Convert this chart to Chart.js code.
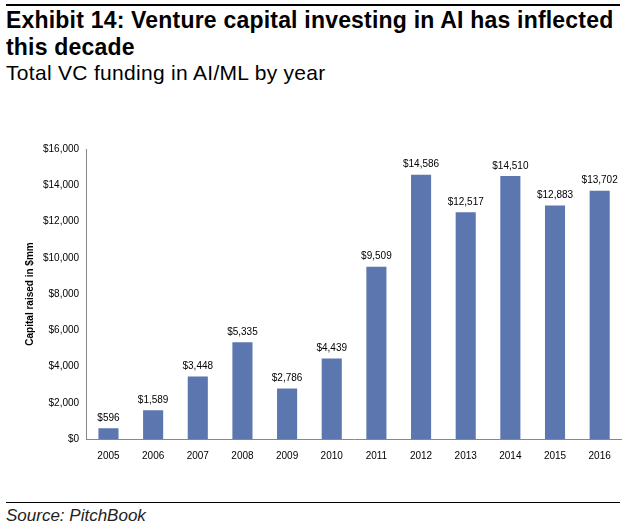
<!DOCTYPE html>
<html>
<head>
    <script src="https://cdn.jsdelivr.net/npm/chart.js@4/dist/chart.umd.min.js"></script>
    <style>
        body { margin: 0; width: 640px; height: 528px; background: #fff; font-family: Arial, "Liberation Sans", sans-serif; position: relative; }
        .rule { position: absolute; left: 6px; width: 614px; border-top: 2px solid #000; }
        .title { position: absolute; left: 6px; top: 7px; font-size: 23px; font-weight: bold; line-height: 27px; color: #000; letter-spacing: 0.2px; }
        .subtitle { position: absolute; left: 6px; top: 61px; font-size: 21px; color: #000; letter-spacing: 0.3px; }
        .source { position: absolute; left: 6px; top: 506px; font-size: 17px; font-style: italic; color: #222; }
        .chart-box { position: absolute; left: 20px; top: 140px; width: 602px; height: 325px; }
    </style>
</head>
<body>
    <div class="rule" style="top:4px"></div>
    <div class="title">Exhibit 14: Venture capital investing in AI has inflected<br>this decade</div>
    <div class="subtitle">Total VC funding in AI/ML by year</div>
    <div class="chart-box"><canvas id="vcChart"></canvas></div>
    <div class="rule" style="top:502px; border-top-width:1px"></div>
    <div class="source">Source: PitchBook</div>
    <script>
        const years = ['2005', '2006', '2007', '2008', '2009', '2010', '2011', '2012', '2013', '2014', '2015', '2016'];
        const capital = [596, 1589, 3448, 5335, 2786, 4439, 9509, 14586, 12517, 14510, 12883, 13702];

        // draw value labels above bars
        const valueLabels = {
            id: 'valueLabels',
            afterDatasetsDraw(chart) {
                const ctx = chart.ctx;
                ctx.save();
                ctx.font = '10px Arial';
                ctx.fillStyle = '#000';
                ctx.textAlign = 'center';
                ctx.textBaseline = 'bottom';
                chart.getDatasetMeta(0).data.forEach((bar, i) => {
                    ctx.fillText('$' + capital[i].toLocaleString('en-US'), bar.x, bar.y - 5);
                });
                ctx.restore();
            }
        };

        new Chart(document.getElementById('vcChart'), {
            type: 'bar',
            data: {
                labels: years,
                datasets: [{
                    data: capital,
                    backgroundColor: '#5c76b0',
                    barPercentage: 0.45,
                    categoryPercentage: 1
                }]
            },
            options: {
                responsive: true,
                maintainAspectRatio: false,
                animation: false,
                layout: { padding: { top: 3 } },
                plugins: { legend: { display: false }, tooltip: { enabled: false } },
                scales: {
                    y: {
                        min: 0, max: 16000,
                        ticks: { stepSize: 2000, color: '#000', font: { size: 10 },
                                 callback: v => '$' + v.toLocaleString('en-US') },
                        grid: { display: false, drawTicks: true, tickLength: 4 },
                        border: { color: '#888' },
                        title: { display: true, text: 'Capital raised in $mm', color: '#000',
                                 font: { size: 10, weight: 'bold' } }
                    },
                    x: {
                        ticks: { color: '#000', font: { size: 10 } },
                        grid: { display: false },
                        border: { color: '#888' }
                    }
                }
            },
            plugins: [valueLabels]
        });
    </script>
</body>
</html>
